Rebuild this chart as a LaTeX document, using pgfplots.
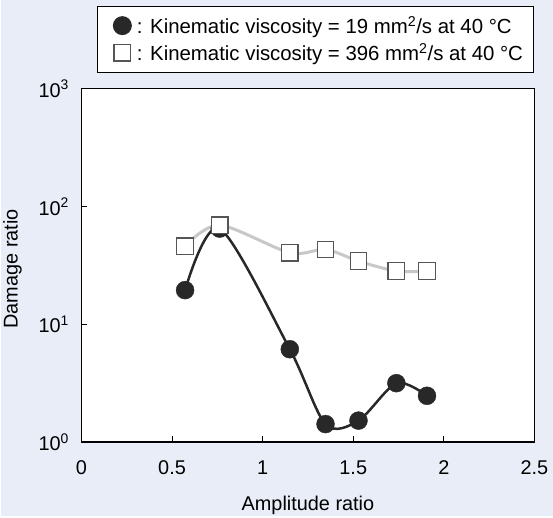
\documentclass[border=0pt]{standalone}
\usepackage{pgfplots}
\pgfplotsset{compat=1.18}
\usepackage{fontspec}
\setmainfont{Liberation Sans}
\definecolor{bg}{RGB}{232,237,248}
\definecolor{dk}{RGB}{40,40,40}
\definecolor{lg}{RGB}{200,200,200}
\definecolor{sq}{RGB}{85,85,85}
\begin{document}
\begin{tikzpicture}[x=1bp,y=1bp]
\fill[bg] (-80.4,-74) rectangle (472.6,443);
\begin{axis}[at={(0,0)}, anchor=south west, scale only axis,
  width=454bp, height=354bp,
  ymode=log, xmin=0, xmax=2.5, ymin=1, ymax=1000,
  axis background/.style={fill=white},
  axis line style={line width=1.2bp, black},
  tick style={line width=1bp, black},
  major tick length=6bp, minor tick length=0bp,
  tick align=inside,
  xtick={0,0.5,1,1.5,2,2.5},
  xticklabels={0,0.5,1,1.5,2,2.5},
  ytick={1,10,100,1000},
  yticklabels={10\textsuperscript{0},10\textsuperscript{1},10\textsuperscript{2},10\textsuperscript{3}},
  xtick pos=bottom, ytick pos=left,
  font=\fontsize{20}{24}\selectfont,
  x tick label style={yshift=-15bp},
  y tick label style={xshift=-9bp},
  xlabel={Amplitude ratio}, ylabel={Damage ratio},
  x label style={at={(axis description cs:0.5,0)}, anchor=center, yshift=-63bp},
  y label style={at={(axis description cs:-0.152,0.49)}, anchor=center},
  legend style={at={(axis description cs:1,1)}, anchor=south east, yshift=16bp,
    draw=black, line width=1bp, fill=white, font=\fontsize{20.5}{24}\selectfont,
    inner sep=6bp, row sep=0bp, legend cell align=left,
    nodes={inner xsep=5bp, inner ysep=0bp}},
  legend image code/.code={\path (0bp,-13bp) (27bp,13bp); \draw[#1] plot coordinates {(18bp,0bp)};},
]
\addplot[lg, line width=3bp, smooth, forget plot] coordinates {
 (0.572,46.1) (0.763,69.5) (1.150,40.5) (1.347,43.2) (1.529,34.4) (1.738,28.3) (1.907,28.3)};
\addplot[dk, line width=2.5bp, smooth, forget plot] coordinates {
 (0.572,19.5) (0.763,65) (1.150,6.14) (1.347,1.42) (1.529,1.52) (1.738,3.16) (1.907,2.47)};
\addplot[only marks, mark=*, mark size=9bp, draw=dk, fill=dk, forget plot] coordinates {
 (0.572,19.5) (0.763,65) (1.150,6.14) (1.347,1.42) (1.529,1.52) (1.738,3.16) (1.907,2.47)};
\addplot[only marks, mark=square*, mark size=8.3bp, draw=sq, fill=white, line width=1.3bp, forget plot] coordinates {
 (0.572,46.1) (0.763,69.5) (1.150,40.5) (1.347,43.2) (1.529,34.4) (1.738,28.3) (1.907,28.3)};
\addlegendimage{only marks, mark=*, mark size=9bp, draw=dk, fill=dk}
\addlegendentry{: Kinematic viscosity = 19 mm\textsuperscript{2}/s at 40 °C}
\addlegendimage{only marks, mark=square*, mark size=8.3bp, draw=sq, fill=white, line width=1.3bp}
\addlegendentry{: Kinematic viscosity = 396 mm\textsuperscript{2}/s at 40 °C}
\end{axis}
\end{tikzpicture}
\end{document}
